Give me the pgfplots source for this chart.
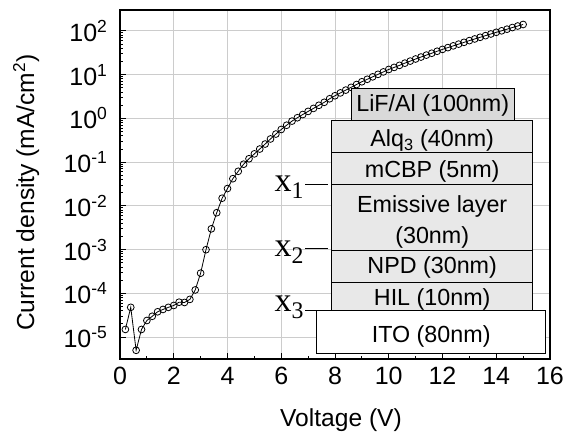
\documentclass[border=0pt]{standalone}
\usepackage{fontspec}
\setmainfont{Liberation Sans}
\newfontfamily\tnr{Liberation Serif}
\usepackage{pgfplots}
\pgfplotsset{compat=1.18}
\begin{document}
\begin{tikzpicture}[x=1pt,y=1pt]
\path[use as bounding box] (-120,-73) rectangle (445,359);
\begin{axis}[
  at={(0,0)}, anchor=south west,
  scale only axis, width=430pt, height=349pt,
  ymode=log, xmin=0, xmax=16, ymin=3.1623e-6, ymax=302,
  xtick={0,2,...,16}, minor xtick={1,3,...,15},
  ytick={1e-5,1e-4,1e-3,1e-2,1e-1,1,10,100},
  yticklabels={10\textsuperscript{-5},10\textsuperscript{-4},10\textsuperscript{-3},10\textsuperscript{-2},10\textsuperscript{-1},10\textsuperscript{0},10\textsuperscript{1},10\textsuperscript{2}},
  font=\fontsize{24.6}{29}\selectfont,
  tick label style={font=\fontsize{25}{29}\selectfont},
  xticklabel style={yshift=-5pt},
  yticklabel style={xshift=-9pt},
  /pgf/number format/assume math mode=true,
  tick align=inside, xtick pos=bottom, ytick pos=left,
  major tick length=6pt, minor tick length=3.5pt,
  grid=major, major grid style={color=black!20, line width=1pt},
  axis line style={line width=1.4pt},
  every tick/.style={black, line width=1pt},
  xlabel={Voltage (V)}, ylabel={Current density (mA/cm\textsuperscript{2})},
  xlabel style={at={(axis description cs:0.514,-0.175)}, anchor=center},
  ylabel style={at={(axis description cs:-0.218,0.477)}, anchor=center},
]
\addplot[black, line width=0.8pt, mark=o, mark size=3.4pt, mark options={fill=white, line width=0.8pt}] table {
x y
0.2 1.5e-5
0.4 4.8e-5
0.6 5e-6
0.8 1.5e-5
1.0 2.4e-5
1.2 3.0e-5
1.4 3.8e-5
1.6 4.3e-5
1.8 4.8e-5
2.0 5.3e-5
2.2 6.3e-5
2.4 6.2e-5
2.6 7.3e-5
2.8 1.2e-4
3.0 2.9e-4
3.2 1.0e-3
3.4 3.0e-3
3.6 7.0e-3
3.8 1.5e-2
4.0 2.5e-2
4.2 4.2e-2
4.4 6.2e-2
4.6 9.0e-2
4.8 0.12
5.0 0.155
5.2 0.20
5.4 0.26
5.6 0.34
5.8 0.44
6.0 0.56
6.2 0.70
6.4 0.87
6.6 1.04
6.8 1.23
7.0 1.45
7.2 1.70
7.4 2.0
7.6 2.34
7.8 2.82
8.0 3.31
8.2 3.84
8.4 4.45
8.6 5.15
8.8 5.97
9.0 6.92
9.2 7.87
9.4 8.95
9.6 10.2
9.8 11.6
10.0 13.2
10.2 14.7
10.4 16.4
10.6 18.4
10.8 20.5
11.0 22.9
11.2 25.4
11.4 28.1
11.6 31.0
11.8 34.4
12.0 38.0
12.2 41.7
12.4 45.7
12.6 50.1
12.8 55.0
13.0 60.3
13.2 65.8
13.4 71.8
13.6 78.3
13.8 85.5
14.0 93.3
14.2 101
14.4 110
14.6 120
14.8 130
15.0 141
};
\end{axis}
\begin{scope}[line width=1pt, font=\fontsize{23.3}{27}\selectfont]
\draw[fill=black!15] (231,239) rectangle (394.3,270.7);
\draw[fill=black!9] (211.7,206.7) rectangle (412.7,239);
\draw[fill=black!9] (211.7,174.7) rectangle (412.7,206.7);
\draw[fill=black!9] (211.7,109) rectangle (412.7,174.7);
\draw[fill=black!9] (211.7,76.7) rectangle (412.7,109);
\draw[fill=black!9] (211.7,49) rectangle (412.7,76.7);
\draw[fill=white] (196.7,5.7) rectangle (425.7,49);
\tikzset{lab/.style={inner sep=0, text height=16.7pt, text depth=0pt, anchor=center}}
\node[lab] at (312.7,255.7) {LiF/Al (100nm)};
\node[lab] at (312.2,221) {Alq\textsubscript{3} (40nm)};
\node[lab] at (312.2,190) {mCBP (5nm)};
\node[lab] at (312.2,155) {Emissive layer};
\node[lab] at (312.2,124) {(30nm)};
\node[lab] at (312.2,94) {NPD (30nm)};
\node[lab] at (312.2,61.7) {HIL (10nm)};
\node[lab] at (311.2,25) {ITO (80nm)};
\node[inner sep=0, anchor=base west, font=\tnr\fontsize{34}{36}\selectfont] at (154,167.3) {x\textsubscript{1}};
\node[inner sep=0, anchor=base west, font=\tnr\fontsize{34}{36}\selectfont] at (154,102.3) {x\textsubscript{2}};
\node[inner sep=0, anchor=base west, font=\tnr\fontsize{34}{36}\selectfont] at (154,47.3) {x\textsubscript{3}};
\draw (185,174.7) -- (208.3,174.7);
\draw (185,110.7) -- (208.3,110.7);
\draw (185,49) -- (211.7,49);
\end{scope}
\end{tikzpicture}
\end{document}
